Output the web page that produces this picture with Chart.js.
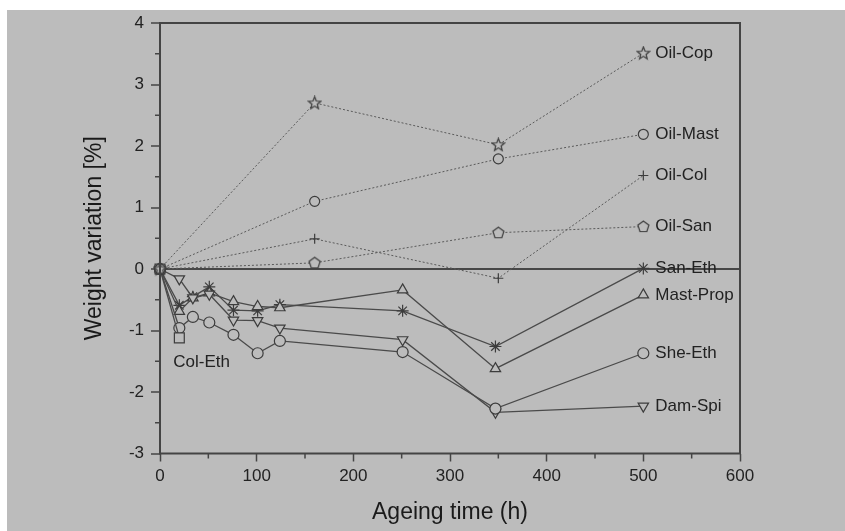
<!DOCTYPE html>
<html>
<head>
<meta charset="utf-8">
<script src="https://cdn.jsdelivr.net/npm/chart.js@4/dist/chart.umd.min.js"></script>
<style>
  html, body { margin: 0; padding: 0; background: #fff; }
  #wrap { width: 845px; height: 531px; }
</style>
</head>
<body>
<div id="wrap"><canvas id="weightChart" width="845" height="531"></canvas></div>
<script>
// oil-based samples, measured at 4 times
const hoursOil = [0, 160, 350, 500];
const oilCop  = [0, 2.70, 2.02, 3.51];
const oilMast = [0, 1.10, 1.79, 2.19];
const oilCol  = [0, 0.49, -0.15, 1.52];
const oilSan  = [0, 0.10, 0.59, 0.69];

// mixture samples, measured more often
const hoursMix = [0, 20, 34, 51, 76, 101, 124, 251, 347, 500];
const sanEth   = [0, -0.59, -0.45, -0.29, -0.67, -0.68, -0.58, -0.68, -1.26, 0.01];
const mastProp = [0, -0.69, -0.47, -0.39, -0.53, -0.61, -0.63, -0.34, -1.62, -0.42];
const sheEth   = [0, -0.96, -0.78, -0.87, -1.07, -1.37, -1.17, -1.35, -2.27, -1.37];
const damSpi   = [0, -0.16, -0.47, -0.41, -0.83, -0.84, -0.96, -1.15, -2.33, -2.23];

const hoursColEth = [0, 20];
const colEth      = [0, -1.12];

const xTicks = [0, 100, 200, 300, 400, 500, 600];
const yTicks = [-3, -2, -1, 0, 1, 2, 3, 4];

const bg = '#bcbcbc';
const ink = '#3c3c3c';

function pairs(xs, ys) {
    return xs.map(function (x, i) { return { x: x, y: ys[i] }; });
}

function polygonMarker(points, outer, inner) {
    const c = document.createElement('canvas');
    c.width = 15; c.height = 15;
    const g = c.getContext('2d');
    const n = inner ? points * 2 : points;
    g.beginPath();
    for (let i = 0; i < n; i++) {
        const r = inner && i % 2 ? inner : outer;
        const a = -Math.PI / 2 + i * 2 * Math.PI / n;
        const px = 7.5 + r * Math.cos(a), py = 7.8 + r * Math.sin(a);
        if (i === 0) g.moveTo(px, py); else g.lineTo(px, py);
    }
    g.closePath();
    g.fillStyle = bg;
    g.fill();
    g.strokeStyle = ink;
    g.lineWidth = 1.2;
    g.stroke();
    return c;
}

const starMarker = polygonMarker(5, 6.5, 2.8);
const pentaMarker = polygonMarker(5, 5.8);

function series(label, xs, ys, style, dotted, extra) {
    return Object.assign({
        label: label,
        data: pairs(xs, ys),
        borderColor: dotted ? '#5a5a5a' : '#4a4a4a',
        borderWidth: dotted ? 1 : 1.3,
        borderDash: dotted ? [2, 2] : [],
        pointStyle: style,
        pointRadius: 5.5,
        pointBorderColor: ink,
        pointBorderWidth: 1.2,
        pointBackgroundColor: bg,
        tension: 0,
        clip: false
    }, extra || {});
}

const datasets = [
    series('Oil-Cop', hoursOil, oilCop, starMarker, true),
    series('Oil-Mast', hoursOil, oilMast, 'circle', true, { pointRadius: 5 }),
    series('Oil-Col', hoursOil, oilCol, 'cross', true, { pointRadius: 5 }),
    series('Oil-San', hoursOil, oilSan, pentaMarker, true),
    series('Col-Eth', hoursColEth, colEth, 'rect', false, { pointRadius: 7, labelDx: -6, labelDy: 24 }),
    series('She-Eth', hoursMix, sheEth, 'circle', false, { pointRadius: 5.5 }),
    series('Dam-Spi', hoursMix, damSpi, 'triangle', false, { pointRotation: 180, pointRadius: 6 }),
    series('Mast-Prop', hoursMix, mastProp, 'triangle', false, { pointRadius: 6 }),
    series('San-Eth', hoursMix, sanEth, 'star', false, { pointRadius: 6 })
];

const paperPlugin = {
    id: 'paper',
    beforeDraw: function (chart) {
        const c = chart.ctx;
        c.save();
        c.fillStyle = '#ffffff';
        c.fillRect(0, 0, chart.width, chart.height);
        c.fillStyle = bg;
        c.fillRect(7, 10, chart.width - 7, chart.height - 10);
        c.restore();
    }
};

const framePlugin = {
    id: 'frame',
    afterDatasetsDraw: function (chart) {
        const a = chart.chartArea;
        const c = chart.ctx;
        const xs = chart.scales.x, ys = chart.scales.y;
        c.save();
        c.strokeStyle = '#444';
        c.lineWidth = 2;
        c.strokeRect(a.left, a.top, a.right - a.left, a.bottom - a.top);
        // minor ticks halfway between the major ones
        c.lineWidth = 1.5;
        c.beginPath();
        for (let i = 0; i < yTicks.length - 1; i++) {
            const py = ys.getPixelForValue(yTicks[i] + 0.5);
            c.moveTo(a.left - 5, py); c.lineTo(a.left, py);
        }
        for (let i = 0; i < xTicks.length - 1; i++) {
            const px = xs.getPixelForValue(xTicks[i] + 50);
            c.moveTo(px, a.bottom); c.lineTo(px, a.bottom + 5);
        }
        c.stroke();
        c.restore();
    }
};

const labelPlugin = {
    id: 'seriesLabels',
    afterDatasetsDraw: function (chart) {
        const c = chart.ctx;
        c.save();
        c.font = '17px "Liberation Sans", Arial, sans-serif';
        c.fillStyle = '#222';
        c.textBaseline = 'middle';
        c.textAlign = 'left';
        chart.data.datasets.forEach(function (ds, i) {
            const pts = chart.getDatasetMeta(i).data;
            const last = pts[pts.length - 1];
            const dx = ds.labelDx !== undefined ? ds.labelDx : 12;
            const dy = ds.labelDy || 0;
            c.fillText(ds.label, last.x + dx, last.y + dy);
        });
        c.restore();
    }
};

const ctx = document.getElementById('weightChart').getContext('2d');
new Chart(ctx, {
    type: 'line',
    data: { datasets: datasets },
    plugins: [paperPlugin, framePlugin, labelPlugin],
    options: {
        responsive: false,
        animation: false,
        layout: { padding: { left: 77, top: 23, right: 105, bottom: 1 } },
        plugins: {
            legend: { display: false },
            tooltip: { enabled: false }
        },
        scales: {
            x: {
                type: 'linear',
                min: 0,
                max: 600,
                afterFit: function (scale) { scale.height = 76.5; },
                afterBuildTicks: function (scale) {
                    scale.ticks = xTicks.map(function (v) { return { value: v }; });
                },
                border: { display: false },
                grid: {
                    drawOnChartArea: false,
                    tickLength: 8,
                    tickColor: '#444',
                    tickWidth: 1.5
                },
                ticks: {
                    padding: 5,
                    color: '#222',
                    font: { family: '"Liberation Sans", Arial, sans-serif', size: 17 }
                },
                title: {
                    display: true,
                    text: 'Ageing time (h)',
                    color: '#1a1a1a',
                    font: { family: '"Liberation Sans", Arial, sans-serif', size: 23 },
                    padding: { top: 4, bottom: 4 }
                }
            },
            y: {
                min: -3,
                max: 4,
                afterFit: function (scale) { scale.width = 83; },
                afterBuildTicks: function (scale) {
                    scale.ticks = yTicks.map(function (v) { return { value: v }; });
                },
                border: { display: false },
                grid: {
                    color: function (c) { return c.tick && c.tick.value === 0 ? '#474747' : 'rgba(0,0,0,0)'; },
                    lineWidth: 2,
                    tickLength: 9,
                    tickColor: '#444',
                    tickWidth: 1.5
                },
                ticks: {
                    padding: 7,
                    color: '#222',
                    font: { family: '"Liberation Sans", Arial, sans-serif', size: 17 }
                },
                title: {
                    display: true,
                    text: 'Weight variation [%]',
                    color: '#1a1a1a',
                    font: { family: '"Liberation Sans", Arial, sans-serif', size: 23 },
                    padding: { top: 4, bottom: 4 }
                }
            }
        }
    }
});
</script>
</body>
</html>
